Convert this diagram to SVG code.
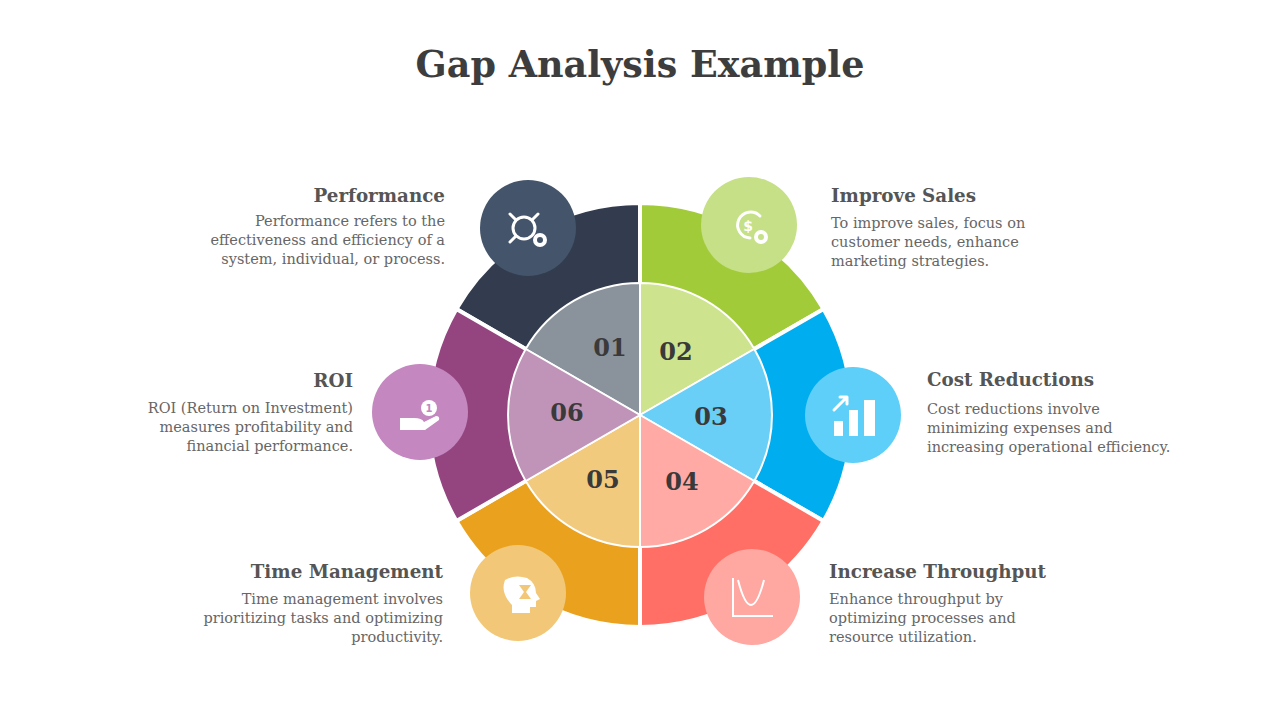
<svg xmlns="http://www.w3.org/2000/svg" width="1280" height="720" viewBox="0 0 1280 720">
<style>
.t{font-family:"DejaVu Serif","Liberation Serif",serif}
.h{font-family:"DejaVu Serif","Liberation Serif",serif;font-weight:bold;font-size:18.3px;fill:#555}
.b{font-family:"DejaVu Serif","Liberation Serif",serif;font-size:14.5px;fill:#666}
.n{font-family:"DejaVu Serif","Liberation Serif",serif;font-weight:bold;font-size:24px;fill:#3a3a3a;text-anchor:middle}
.w{stroke:#fff;stroke-width:4}
.wi{stroke:#fff;stroke-width:2}
.ic{fill:none;stroke:#fff;stroke-width:3;stroke-linecap:round;stroke-linejoin:round}
.r{text-anchor:end}
</style>
<rect width="1280" height="720" fill="#fff"/>
<text x="640" y="77" text-anchor="middle" class="t" font-size="36.5" font-weight="bold" fill="#3d3d3d">Gap Analysis Example</text>
<g id="wheel">
<path class="w" fill="#323c4e" d="M640,415 L456.4,309 A212,212 0 0 1 640,203 Z"/>
<path class="w" fill="#a2cb3a" d="M640,415 L640,203 A212,212 0 0 1 823.6,309 Z"/>
<path class="w" fill="#00adef" d="M640,415 L823.6,309 A212,212 0 0 1 823.6,521 Z"/>
<path class="w" fill="#ff6f66" d="M640,415 L823.6,521 A212,212 0 0 1 640,627 Z"/>
<path class="w" fill="#eaa21e" d="M640,415 L640,627 A212,212 0 0 1 456.4,521 Z"/>
<path class="w" fill="#944580" d="M640,415 L456.4,521 A212,212 0 0 1 456.4,309 Z"/>
<path class="wi" fill="#8a929c" d="M640,415 L525.7,349 A132,132 0 0 1 640,283 Z"/>
<path class="wi" fill="#cde38e" d="M640,415 L640,283 A132,132 0 0 1 754.3,349 Z"/>
<path class="wi" fill="#69cff7" d="M640,415 L754.3,349 A132,132 0 0 1 754.3,481 Z"/>
<path class="wi" fill="#ffaaa4" d="M640,415 L754.3,481 A132,132 0 0 1 640,547 Z"/>
<path class="wi" fill="#f2ca7e" d="M640,415 L640,547 A132,132 0 0 1 525.7,481 Z"/>
<path class="wi" fill="#c094b8" d="M640,415 L525.7,481 A132,132 0 0 1 525.7,349 Z"/>
<text class="n" x="610" y="356">01</text>
<text class="n" x="676" y="360">02</text>
<text class="n" x="711" y="425">03</text>
<text class="n" x="682" y="490">04</text>
<text class="n" x="603" y="488">05</text>
<text class="n" x="567" y="421">06</text>
</g>
<g id="node1">
<circle cx="528" cy="228" r="48" fill="#44546a"/>
<circle class="ic" cx="524" cy="228" r="11"/>
<path class="ic" d="M510,214 l6,6 M538,214 l-6,6 M510,242 l6,-6"/>
<circle cx="540" cy="240" r="7" fill="#fff"/><circle cx="540" cy="240" r="3" fill="#44546a"/>
<text class="h r" x="445" y="202">Performance</text>
<text class="b r" x="445" y="226">Performance refers to the</text>
<text class="b r" x="445" y="245">effectiveness and efficiency of a</text>
<text class="b r" x="445" y="264">system, individual, or process.</text>
</g>
<g id="node2">
<circle cx="749" cy="225" r="48" fill="#c5e086"/>
<path class="ic" d="M760,216 A13,13 0 1 0 750,238"/>
<text x="748" y="231" font-family="DejaVu Sans,sans-serif" font-size="14" font-weight="bold" fill="#fff" text-anchor="middle">$</text>
<circle cx="761" cy="237" r="7" fill="#fff"/><circle cx="761" cy="237" r="3" fill="#c5e086"/>
<text class="h" x="831" y="202">Improve Sales</text>
<text class="b" x="831" y="228">To improve sales, focus on</text>
<text class="b" x="831" y="247">customer needs, enhance</text>
<text class="b" x="831" y="266">marketing strategies.</text>
</g>
<g id="node3">
<circle cx="853" cy="415" r="48" fill="#5dcff8"/>
<rect x="834" y="421" width="9" height="15" fill="#fff"/>
<rect x="849" y="410" width="9" height="26" fill="#fff"/>
<rect x="864" y="400" width="11" height="36" fill="#fff"/>
<path class="ic" d="M834,410 l12,-12 M840,397 h7 v7"/>
<text class="h" x="927" y="386">Cost Reductions</text>
<text class="b" x="927" y="414">Cost reductions involve</text>
<text class="b" x="927" y="433">minimizing expenses and</text>
<text class="b" x="927" y="452">increasing operational efficiency.</text>
</g>
<g id="node4">
<circle cx="752" cy="597" r="48" fill="#ffa7a1"/>
<path fill="none" stroke="#fff" stroke-width="2" d="M733,578 v38 h40 M738,580 q13,50 26,0"/>
<text class="h" x="829" y="578">Increase Throughput</text>
<text class="b" x="829" y="604">Enhance throughput by</text>
<text class="b" x="829" y="623">optimizing processes and</text>
<text class="b" x="829" y="642">resource utilization.</text>
</g>
<g id="node5">
<circle cx="518" cy="593" r="48" fill="#f2c878"/>
<path fill="#fff" d="M505,580 q10,-6 22,-2 q9,5 9,15 l4,6 l-4,2 v6 h-6 v6 h-18 v-8 q-12,-12 -7,-25 z"/>
<path fill="#f2c878" d="M519,585 h12 l-5,7 l5,7 h-12 l5,-7 z"/>
<text class="h r" x="443" y="578">Time Management</text>
<text class="b r" x="443" y="604">Time management involves</text>
<text class="b r" x="443" y="623">prioritizing tasks and optimizing</text>
<text class="b r" x="443" y="642">productivity.</text>
</g>
<g id="node6">
<circle cx="420" cy="412" r="48" fill="#c487bf"/>
<circle cx="429" cy="408" r="8" fill="#fff"/>
<text x="429" y="412" font-family="DejaVu Sans,sans-serif" font-size="10" font-weight="bold" fill="#c487bf" text-anchor="middle">1</text>
<path fill="#fff" d="M400,418 h14 q8,0 10,4 l12,-6 q4,0 3,4 l-14,10 h-25 z"/>
<text class="h r" x="353" y="387">ROI</text>
<text class="b r" x="353" y="413">ROI (Return on Investment)</text>
<text class="b r" x="353" y="432">measures profitability and</text>
<text class="b r" x="353" y="451">financial performance.</text>
</g>
</svg>
